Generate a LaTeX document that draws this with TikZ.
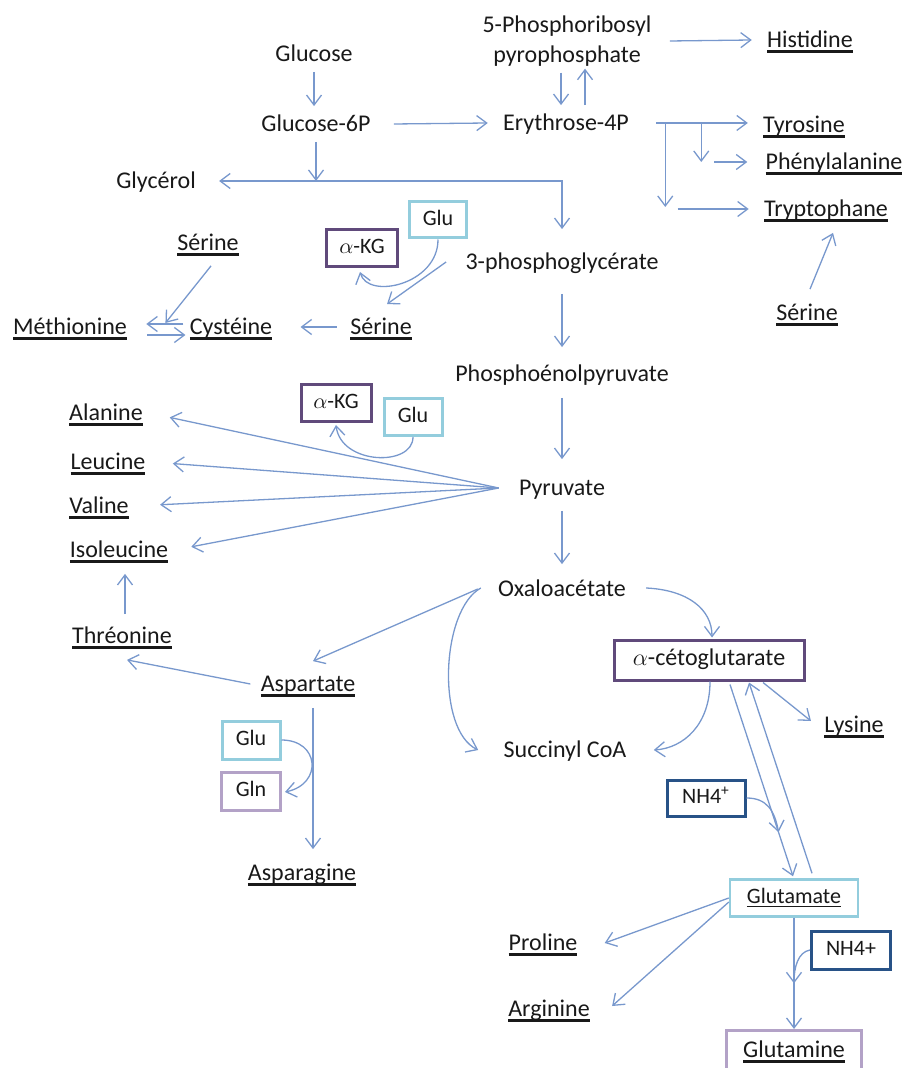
\documentclass[tikz,border=0pt]{standalone}
\usepackage{fontspec}
\setmainfont{Carlito}
\usetikzlibrary{arrows.meta,calc}

\definecolor{flow}{RGB}{120,152,205}
\definecolor{ink}{RGB}{25,25,25}
\definecolor{kgpurple}{RGB}{96,74,123}
\definecolor{glucyan}{RGB}{147,205,221}
\definecolor{glnlav}{RGB}{179,162,199}
\definecolor{nhblue}{RGB}{40,82,135}

% underlined amino-acid names
\newsavebox\ulb
\newcommand\aathick[1]{\sbox\ulb{#1}\rlap{\usebox\ulb}\rule[-2.7pt]{\wd\ulb}{1.3pt}}
\newcommand\aathin[1]{\sbox\ulb{#1}\rlap{\usebox\ulb}\rule[-1.9pt]{\wd\ulb}{0.6pt}}

\begin{document}
\begin{tikzpicture}[x=0.5pt, y=-0.5pt,
  >={Straight Barb[length=5pt,width=7.5pt]},
  metabase/.style={font=\fontsize{12}{15}\selectfont, text=ink, inner sep=3pt},
  metab/.style={metabase, text height=9.5pt, text depth=2pt},
  cofbox/.style={draw, line width=1.5pt, fill=white, text=ink, inner sep=0pt,
    font=\fontsize{11}{13}\selectfont, text height=7.5pt, text depth=2pt},
  conv/.style={draw=flow, line width=0.65pt, ->}]

\useasboundingbox (0,0) rectangle (905,1068);
\clip (0,0) rectangle (905,1068);

% ---- metabolites ----
\node[metab] (glucose)  at (314,54)  {Glucose};
\node[metab] (g6p)      at (316,124) {Glucose-6P};
\node[metab] (glycerol) at (156,181) {Glycérol};
\node[metabase, align=center] (prpp) at (567,41) {5-Phosphoribosyl\\pyrophosphate};
\node[metab] (e4p)      at (566,123) {Erythrose-4P};
\node[metab] (pg3)      at (562,262) {3-phosphoglycérate};
\node[metab] (pep)      at (562,374) {Phosphoénolpyruvate};
\node[metab] (pyr)      at (562,488) {Pyruvate};
\node[metab] (oaa)      at (562,589) {Oxaloacétate};
\node[metab] (succ)     at (565,750) {Succinyl CoA};

% ---- amino acids ----
\node[metab] (histidine) at (810,40)  {\aathick{Histidine}};
\node[metab] (tyrosine)  at (804,125) {\aathick{Tyrosine}};
\node[metab] (phe)       at (834,162) {\aathick{Phénylalanine}};
\node[metab] (trp)       at (826,209) {\aathick{Tryptophane}};
\node[metab] (serR)      at (807,313) {\aathick{Sérine}};
\node[metab] (serUL)     at (208,243) {\aathick{Sérine}};
\node[metab] (met)       at (70,327)  {\aathick{Méthionine}};
\node[metab] (cys)       at (231,327) {\aathick{Cystéine}};
\node[metab] (serM)      at (381,327) {\aathick{Sérine}};
\node[metab] (ala)       at (106,413) {\aathick{Alanine}};
\node[metab] (leu)       at (108,462) {\aathick{Leucine}};
\node[metab] (val)       at (99,506)  {\aathick{Valine}};
\node[metab] (ile)       at (119,550) {\aathick{Isoleucine}};
\node[metab] (thr)       at (122,636) {\aathick{Thréonine}};
\node[metab] (asp)       at (308,684) {\aathick{Aspartate}};
\node[metab] (asn)       at (302,873) {\aathick{Asparagine}};
\node[metab] (lys)       at (854,725) {\aathick{Lysine}};
\node[metab] (pro)       at (543,943) {\aathick{Proline}};
\node[metab] (arg)       at (549,1009) {\aathick{Arginine}};

% ---- boxed cofactors ----
\node[cofbox, draw=kgpurple, minimum width=35.5pt, minimum height=18.5pt] (akg1) at (362,248) {$\alpha$-KG};
\node[cofbox, draw=glucyan,  minimum width=28.5pt, minimum height=18pt]   (glu1) at (438,220) {Glu};
\node[cofbox, draw=kgpurple, minimum width=35pt,   minimum height=18.5pt] (akg2) at (336,403) {$\alpha$-KG};
\node[cofbox, draw=glucyan,  minimum width=29pt,   minimum height=18.5pt] (glu2) at (413,417) {Glu};
\node[cofbox, draw=glucyan,  minimum width=29pt,   minimum height=19pt]   (glu3) at (251,740) {Glu};
\node[cofbox, draw=glnlav,   minimum width=29.5pt, minimum height=19pt]   (gln)  at (251,791) {Gln};
\node[cofbox, draw=kgpurple, minimum width=95pt,   minimum height=20pt,
      font=\fontsize{12}{14}\selectfont] (akgL) at (709,660) {$\alpha$-cétoglutarate};
\node[cofbox, draw=nhblue,   minimum width=39pt,   minimum height=18pt]   (nh4a) at (706,798) {NH4\textsuperscript{+}};
\node[cofbox, draw=glucyan,  line width=1.2pt, minimum width=64pt, minimum height=18.5pt] (glut) at (794,898) {\aathin{Glutamate}};
\node[cofbox, draw=nhblue,   minimum width=39.5pt, minimum height=19pt]   (nh4b) at (851,950) {NH4+};
\node[cofbox, draw=glnlav,   minimum width=67.5pt, minimum height=21.5pt,
      font=\fontsize{12}{14}\selectfont] (glutamine) at (794,1052) {\aathick{Glutamine}};

% ---- glycolysis and pentose branch ----
\draw[conv] (glucose.south) -- (glucose.south |- g6p.north);
\draw[conv] ($(g6p.east)+(17,0)$) -- ($(e4p.west)+(-9,0)$);
\draw[conv] (g6p.south) -- (g6p.south |- glycerol.center);
\draw[conv, <->] ($(glycerol.east)+(17,0)$) -| ($(pg3.north)+(0,-15)$);
\draw[conv] ($(prpp.south)+(-6,0)$) -- ($(e4p.north)+(-5,0)$);
\draw[conv] ($(e4p.north)+(19,0)$) -- ($(prpp.south)+(18,-4)$);
\draw[conv] ($(prpp.east)+(12,0)$) -- ($(histidine.west)+(-9,0)$);

% ---- aromatic amino acids ----
\coordinate (eb) at ($(e4p.east)+(21,0)$);
\draw[conv] (eb) -- ($(tyrosine.west)+(-9,-2)$);
\draw[conv] ($(eb)+(45,0)$) -- ($(eb)+(45,39)$);
\draw[conv] ($(phe.west)+(-45,0)$) -- ($(phe.west)+(-12,0)$);
\draw[conv] ($(eb)+(9,0)$) -- ($(eb)+(9,84)$);
\draw[conv] ($(trp.west)+(-80,0)$) -- ($(trp.west)+(-9,0)$);
\draw[conv] ($(serR.north)+(3,-6)$) -- ($(trp.south)+(7,6)$);

% ---- main trunk ----
\draw[conv, shorten <=7pt, shorten >=4.5pt] (pg3.south) -- (pep.north);
\draw[conv, shorten <=3pt, shorten >=5.5pt] (pep.south) -- (pyr.north);
\draw[conv, shorten <=2.5pt, shorten >=3.5pt] (pyr.south) -- (oaa.north);

% ---- serine family ----
\draw[conv] ($(pg3.west)+(-13,0)$) -- ($(serM.north)+(6,-5)$);
\draw[conv] (glu1.south) .. controls +(0,45) and +(8,28) .. ($(akg1.south)+(-2,4)$);
\draw[conv] ($(serM.west)+(-7,0)$) -- ($(cys.east)+(22,0)$);
\draw[conv] ($(serUL.south)+(3,5)$) -- ($(cys.west)+(-18,-4)$);
\draw[conv] ($(cys.west)+(0,-3)$) -- ($(met.east)+(13,-3)$);
\draw[conv] ($(met.east)+(14,8)$) -- ($(cys.west)+(2,8)$);

% ---- pyruvate family ----
\coordinate (fan) at ($(pyr.west)+(-14,0)$);
\draw[conv, shorten >=10.5pt] (fan) -- (ala.east);
\draw[conv, shorten >=10.5pt] (fan) -- (leu.east);
\draw[conv, shorten >=12.5pt] (fan) -- (val.east);
\draw[conv, shorten >=8.5pt]  (fan) -- (ile.east);
\draw[conv] (glu2.south) .. controls +(0,30) and +(5,40) .. ($(akg2.south)+(0,2)$);

% ---- aspartate family ----
\draw[conv] ($(thr.north)+(3,-4)$) -- ($(ile.south)+(6,6)$);
\draw[conv] ($(asp.west)+(-4,0)$) -- ($(thr.south)+(5,6)$);
\draw[conv] ($(oaa.west)+(-14,0)$) -- ($(asp.north)+(5,-5)$);
\draw[conv] ($(asp.south)+(5,6)$) -- ($(asn.north)+(11,-6)$);
\draw[conv] (glu3.east) .. controls +(38,0) and +(38,-8) .. ($(gln.east)+(3,1)$);

% ---- cycle intermediates ----
\draw[conv] ($(oaa.west)+(-11,-1)$) .. controls +(-40,22) and +(-42,-20) .. ($(succ.west)+(-19,0)$);
\draw[conv] ($(oaa.east)+(14,-1)$) .. controls +(42,2) and +(0,-28) .. ($(akgL.north)+(3,-1)$);
\draw[conv] ($(akgL.south)+(1,0)$) .. controls +(0,43) and +(30,-2) .. ($(succ.east)+(21,0)$);

% ---- glutamate family ----
\coordinate (kg1) at ($(akgL.south)+(21,3)$);
\coordinate (kg2) at ($(glut.north)+(-1,-2)$);
\draw[conv] (kg1) -- (kg2);
\draw[conv] ($(glut.north)+(18,-5)$) -- ($(akgL.south)+(40,1)$);
\draw[conv] ($(akgL.south)+(54,1)$) -- ($(lys.west)+(-7,-4)$);
\draw[conv] (nh4a.east) .. controls +(20,0) and +(-4,-22) .. ($(kg1)!0.77!(kg2)$);
\draw[conv] (glut.west) -- ($(pro.east)+(21,0)$);
\draw[conv] ($(glut.west)+(0,4)$) -- ($(arg.east)+(16,-3)$);
\draw[conv] (glut.south) -- (glutamine.north);
\draw[conv] (nh4b.west) .. controls +(-12,2) and +(0,-16) .. ($(glut.south)!0.59!(glutamine.north)$);

\end{tikzpicture}
\end{document}
